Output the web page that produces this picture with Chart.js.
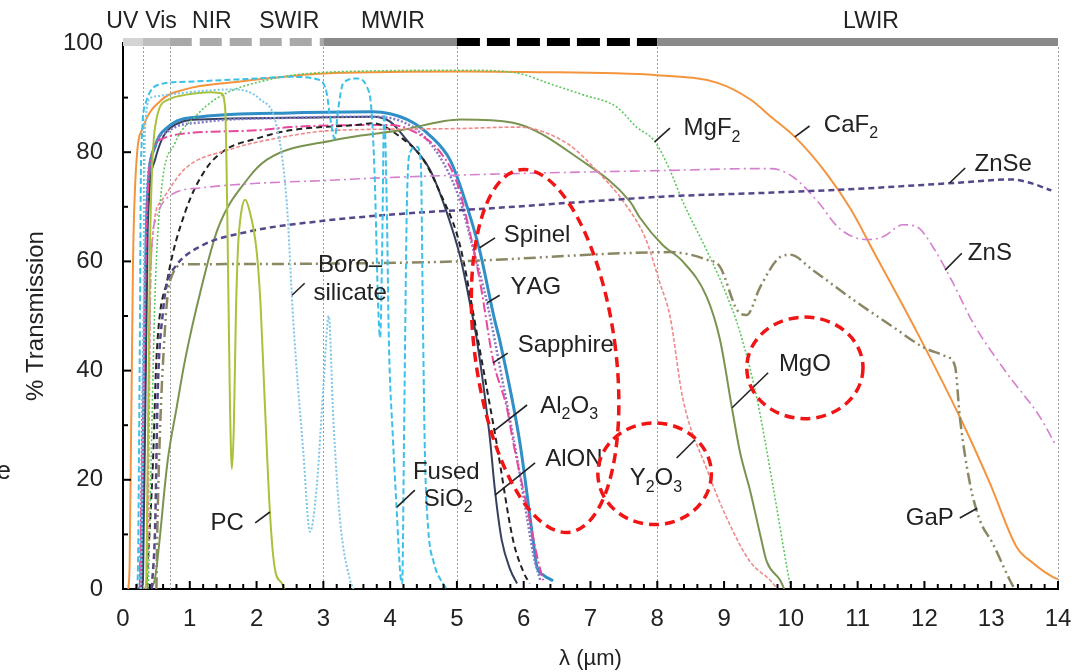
<!DOCTYPE html>
<html>
<head>
<meta charset="utf-8">
<script src="https://cdn.jsdelivr.net/npm/chart.js@4.4.0/dist/chart.umd.min.js"></script>
<style>
  html, body { margin: 0; padding: 0; background: #fff; }
  #wrap { width: 1088px; height: 672px; }
</style>
</head>
<body>
<div id="wrap"><canvas id="chart" width="1088" height="672"></canvas></div>
<script>
// optical transmission of window materials

// ─── DATA (wavelength in µm, transmission in %) ───
const caf2Wl = [0.08, 0.1, 0.15, 0.2, 0.3, 0.57, 0.93, 1.65, 3.15, 5.15, 6, 8, 8.9, 9.4, 9.7, 10.06, 10.54, 10.9, 11.23, 11.89, 12.53, 12.98, 13.38, 13.62, 13.92, 14];
const caf2T  = [0, 5, 60, 78, 84.5, 89.5, 91.5, 92.8, 94.5, 94.8, 94.7, 94.1, 92.7, 89.6, 86.5, 82.8, 76, 69.5, 62, 47, 31.5, 19.4, 7.7, 4.8, 2.2, 1.8];

const mgf2Wl = [0.38, 0.42, 0.48, 0.57, 0.78, 1.08, 1.42, 2.15, 3.15, 5.15, 5.9, 6.4, 6.89, 7.39, 7.69, 7.96, 8.19, 8.38, 8.74, 9.0, 9.24, 9.49, 9.73, 9.94, 10.0];
const mgf2T  = [0, 23, 54, 72.5, 81.7, 86.5, 90, 93.2, 94.7, 95, 94.5, 92.5, 90.5, 88.3, 84.6, 82, 76.7, 71, 62, 55, 47, 35, 19, 4, 0];

const znseWl = [0.43, 0.48, 0.52, 0.6, 0.66, 0.78, 1.15, 1.9, 2.9, 4.15, 5.6, 7, 8.3, 9.5, 11, 12.5, 13.3, 13.55, 13.9];
const znseT  = [0, 11, 36, 51, 56, 59, 62.7, 65.5, 67.3, 68.7, 69.8, 71, 72, 72.5, 73.3, 74.4, 75, 74.5, 73];

const znsWl = [0.35, 0.38, 0.42, 0.5, 0.7, 1.2, 2, 3, 3.85, 5.6, 8.3, 9.5, 9.7, 10.03, 10.4, 10.73, 11.14, 11.38, 11.68, 11.89, 12.13, 12.43, 12.73, 13.23, 13.73, 13.95];
const znsT  = [0, 30, 60, 68, 72, 73.5, 74.3, 74.8, 75.3, 76, 76.7, 77, 77, 75.5, 71, 66, 64, 64.5, 66.7, 66.3, 62.6, 56, 48.7, 39.6, 31.5, 26.7];

const gapWl = [0.5, 0.52, 0.63, 0.72, 0.93, 1.2, 3, 5, 7.5, 8.2, 8.74, 8.94, 9.2, 9.34, 9.54, 9.84, 9.99, 10.33, 10.93, 11.53, 11.98, 12.34, 12.46, 12.53, 12.68, 12.83, 13.02, 13.28, 13.35];
const gapT  = [0, 14.5, 48, 57, 59.5, 59.5, 59.6, 60, 61.5, 61.7, 60.3, 59, 51, 50.2, 55.3, 60.8, 61.2, 58.4, 53, 48, 44.3, 42.5, 40.7, 31.5, 19.4, 12.6, 8.4, 1.6, 0];

const mgoWl = [0.42, 0.48, 0.67, 0.8, 0.93, 1.17, 1.42, 1.86, 2.15, 3.15, 4.15, 5.05, 5.84, 6.84, 7.59, 7.74, 8.08, 8.38, 8.74, 8.94, 9.12, 9.24, 9.39, 9.54, 9.64, 9.84, 9.9];
const mgoT  = [0, 2, 23.6, 33, 42, 55, 66, 75, 78.6, 82.2, 84, 86, 85.4, 78.7, 71, 68, 63, 60, 53.5, 45.6, 33, 25, 18, 10, 5, 1.6, 0];

const y2o3Wl = [0.35, 0.37, 0.42, 0.57, 0.93, 1.57, 2.5, 3.15, 4.9, 5.9, 6.65, 7.14, 7.49, 7.83, 8.04, 8.19, 8.38, 8.74, 9.04, 9.39, 9.69, 9.8];
const y2o3T  = [0, 5, 60, 71, 77, 80.4, 83, 84, 84.3, 84.6, 81.6, 76, 71, 64, 56, 50, 35, 22, 13, 5, 1.6, 0];

const spinelWl = [0.25, 0.27, 0.3, 0.33, 0.37, 0.48, 0.67, 1.17, 2.5, 3.74, 4.25, 4.6, 4.9, 5.1, 5.34, 5.57, 5.64, 5.94, 6.14, 6.2, 6.3, 6.44];
const spinelT  = [0, 2, 23.6, 54, 72.5, 81, 84.6, 86.5, 87.2, 87.4, 86, 83, 78.5, 72, 62, 49, 45.6, 27, 9, 4, 2.5, 1.5];

const yagWl = [0.26, 0.3, 0.35, 0.45, 0.7, 1.2, 2.5, 3.8, 4.2, 4.5, 4.8, 5.05, 5.25, 5.45, 5.7, 5.9, 6.05, 6.15, 6.25];
const yagT  = [0, 40, 70, 80, 84, 85.5, 86.3, 86.5, 85.5, 83, 78, 71, 62, 52.5, 37, 24, 13, 6, 1.5];

const sapphireWl = [0.25, 0.3, 0.35, 0.42, 0.6, 1, 2, 2.5, 4.0, 4.4, 4.75, 5.0, 5.2, 5.35, 5.54, 5.75, 5.84, 6.05, 6.2, 6.29];
const sapphireT  = [0, 30, 65, 79, 82.5, 83.5, 84, 84.6, 85, 83.5, 80, 74.4, 65, 56, 42, 33, 27, 15, 6, 1.6];

const al2o3Wl = [0.35, 0.45, 0.5, 0.67, 0.93, 1.23, 1.53, 2.0, 2.5, 3.5, 3.74, 4.15, 4.5, 4.75, 5.0, 5.1, 5.2, 5.34, 5.59, 5.84, 6.0, 6.09];
const al2o3T  = [0, 23.6, 42, 57, 69, 76.7, 80.4, 82.5, 84, 85, 85.3, 82.8, 78.6, 72.5, 65, 60, 53.5, 44, 27, 9, 3, 1];

const alonWl = [0.28, 0.3, 0.37, 0.48, 0.67, 1.17, 2.5, 3.74, 4.0, 4.25, 4.6, 4.85, 5.05, 5.2, 5.3, 5.49, 5.57, 5.67, 5.8, 5.9];
const alonT  = [0, 2, 66, 78.6, 84, 86, 86.3, 86.5, 85.6, 82.2, 76.7, 68.9, 60.8, 52, 45.5, 28, 18, 9, 3.5, 1];

const silicaWl = [0.2, 0.22, 0.25, 0.27, 0.34, 0.52, 0.93, 2.0, 2.5, 2.95, 3.05, 3.1, 3.17, 3.22, 3.3, 3.5, 3.65, 3.72, 3.77, 3.82, 3.85, 3.88, 3.91, 3.95, 3.98, 4.04, 4.1, 4.15, 4.18, 4.21, 4.25, 4.3, 4.4, 4.46, 4.49, 4.52, 4.57, 4.65, 4.79, 4.85];
const silicaT  = [0, 2, 42, 78, 89, 92.3, 92.9, 93.5, 93.8, 93.2, 90.8, 86.5, 82.5, 87.7, 92.7, 93.5, 92, 87.7, 75, 52, 46, 62, 87, 70, 46, 28, 14, 3, 1, 30, 70, 80, 81, 78, 50, 25, 11, 5, 1, 0];

const boroWl = [0.27, 0.3, 0.33, 0.42, 0.55, 1.0, 1.65, 2.05, 2.3, 2.45, 2.55, 2.7, 2.8, 2.9, 3.0, 3.08, 3.15, 3.25, 3.4, 3.45];
const boroT  = [0, 30, 84.6, 90, 90.3, 91, 91.5, 89.7, 84.8, 71, 49, 25, 10.5, 18.7, 37, 50, 31, 12.6, 1.6, 0];

const pcWl = [0.33, 0.35, 0.4, 0.48, 0.67, 0.93, 1.32, 1.47, 1.53, 1.56, 1.6, 1.63, 1.66, 1.69, 1.72, 1.77, 1.83, 1.9, 2.0, 2.06, 2.12, 2.2, 2.27, 2.38, 2.42];
const pcT  = [0, 2, 60, 84.6, 89.6, 90.5, 91, 90.8, 88, 70, 35, 22, 30, 50, 62, 69, 71.3, 69, 62, 52, 35, 14, 4, 1, 0];

// band edges along the top (µm) and their names
const bandEdges = [0, 0.3, 0.7, 3, 5, 8, 14];
const bandNames = ['UV', 'Vis', 'NIR', 'SWIR', 'MWIR', 'LWIR'];
const bandNameAt = [-0.01, 0.57, 1.33, 2.49, 4.04, 11.2];

// axis ticks
const xTicks = [0, 1, 2, 3, 4, 5, 6, 7, 8, 9, 10, 11, 12, 13, 14];
const yTicks = [0, 20, 40, 60, 80, 100];

// ─── ANNOTATIONS (in data units) ───
const FONT = "'Liberation Sans', Arial, sans-serif";
const INK = '#222';

const notes = [
    { t: 'Boro–', x: 3.40, y: 59.2 }, { t: 'silicate', x: 3.40, y: 54.2 },
    { t: 'Spinel', x: 6.20, y: 64.8 },
    { t: 'YAG', x: 6.18, y: 55.3 },
    { t: 'Sapphire', x: 6.63, y: 44.7 },
    { t: 'Al_2O_3', x: 6.68, y: 33.5 },
    { t: 'AlON', x: 6.75, y: 23.8 },
    { t: 'Fused', x: 4.84, y: 21.4 }, { t: 'SiO_2', x: 4.87, y: 16.5 },
    { t: 'Y_2O_3', x: 7.98, y: 20.3 },
    { t: 'MgO', x: 10.21, y: 41.2 },
    { t: 'MgF_2', x: 8.82, y: 84.4 },
    { t: 'CaF_2', x: 10.9, y: 85.0 },
    { t: 'ZnSe', x: 13.18, y: 77.8 },
    { t: 'ZnS', x: 12.98, y: 61.5 },
    { t: 'GaP', x: 12.08, y: 13.0 },
    { t: 'PC', x: 1.56, y: 12.1 }
];

const leaders = [
    [2.53, 53.8, 2.72, 56.0], [5.34, 62.5, 5.57, 64.3], [5.45, 52.4, 5.64, 53.8],
    [5.54, 41.4, 5.76, 43.2], [5.57, 29.1, 6.05, 33.7], [5.57, 17.2, 6.17, 23.1],
    [4.10, 15.0, 4.37, 18.1], [8.29, 24.0, 8.56, 27.3], [9.12, 33.2, 9.66, 39.6],
    [7.96, 81.9, 8.19, 84.4], [10.06, 82.8, 10.28, 84.8], [12.38, 74.4, 12.61, 77.1],
    [12.31, 58.4, 12.56, 61.5], [12.53, 13.0, 12.79, 14.8], [1.98, 12.1, 2.20, 14.1]
];

const circles = [
    { x: 6.32, y: 43.6, rx: 1.05, ry: 33.5, rot: -0.136 },
    { x: 7.96, y: 21.1, rx: 0.85, ry: 9.3, rot: 0 },
    { x: 10.21, y: 40.5, rx: 0.87, ry: 9.3, rot: 0 }
];

// ─── HELPERS ───
function pairs(xs, ys) {
    return xs.map((x, i) => ({ x: x, y: ys[i] }));
}

function series(label, xs, ys, color, width, dash) {
    return {
        label: label,
        data: pairs(xs, ys),
        borderColor: color,
        borderWidth: width,
        borderDash: dash || [],
        pointRadius: 0,
        fill: false,
        cubicInterpolationMode: 'monotone'
    };
}

// text with single-character subscripts written as _2
function drawRich(ctx, str, cx, cy) {
    const parts = [];
    for (let i = 0; i < str.length; i++) {
        if (str[i] === '_') { parts.push([str[i + 1], true]); i++; }
        else parts.push([str[i], false]);
    }
    const big = `24px ${FONT}`, small = `16px ${FONT}`;
    let total = 0;
    parts.forEach(p => { ctx.font = p[1] ? small : big; p.push(ctx.measureText(p[0]).width); total += p[2]; });
    let x = cx - total / 2;
    ctx.textAlign = 'left';
    ctx.textBaseline = 'middle';
    parts.forEach(p => {
        ctx.font = p[1] ? small : big;
        ctx.fillText(p[0], x, p[1] ? cy + 9 : cy);
        x += p[2];
    });
}

// ─── OVERLAY PLUGIN ───
const overlay = {
    id: 'overlay',
    beforeDatasetsDraw(chart) {
        const { ctx, chartArea: a, scales: { x } } = chart;
        ctx.save();
        ctx.strokeStyle = '#9a9a9a';
        ctx.lineWidth = 1;
        ctx.setLineDash([2, 2]);
        [0.3, 0.7, 3, 5, 8, 14].forEach(v => {
            const px = Math.round(x.getPixelForValue(v)) + 0.5;
            ctx.beginPath(); ctx.moveTo(px, a.top + 4); ctx.lineTo(px, a.bottom); ctx.stroke();
        });
        ctx.restore();
    },
    afterDatasetsDraw(chart) {
        const { ctx, chartArea: a, scales: { x, y } } = chart;
        const ux = x.getPixelForValue(1) - x.getPixelForValue(0);
        const uy = y.getPixelForValue(0) - y.getPixelForValue(1);
        ctx.save();

        // inside tick marks
        ctx.strokeStyle = '#000';
        ctx.lineWidth = 2;
        for (let i = 0; i <= 70; i++) {
            const px = x.getPixelForValue(i * 0.2);
            const len = i % 5 === 0 ? 8 : 5;
            ctx.beginPath(); ctx.moveTo(px, a.bottom); ctx.lineTo(px, a.bottom - len); ctx.stroke();
        }
        for (let v = 10; v <= 100; v += 10) {
            const py = y.getPixelForValue(v);
            const len = v % 20 === 0 ? 8 : 5;
            ctx.beginPath(); ctx.moveTo(a.left, py); ctx.lineTo(a.left + len, py); ctx.stroke();
        }

        // spectral band strip
        const by = a.top - 1;
        const bandStyle = [
            ['#d4d4d4', []], ['#bdbdbd', []], ['#a9a9a9', [22, 8]],
            ['#8a8a8a', []], ['#000000', [23, 7]], ['#8a8a8a', []]
        ];
        ctx.lineWidth = 8;
        for (let i = 0; i < bandStyle.length; i++) {
            ctx.strokeStyle = bandStyle[i][0];
            ctx.setLineDash(bandStyle[i][1]);
            ctx.beginPath();
            ctx.moveTo(x.getPixelForValue(bandEdges[i]), by);
            ctx.lineTo(x.getPixelForValue(bandEdges[i + 1]), by);
            ctx.stroke();
        }
        ctx.setLineDash([]);
        ctx.fillStyle = INK;
        ctx.font = `23px ${FONT}`;
        ctx.textAlign = 'center';
        ctx.textBaseline = 'middle';
        bandNames.forEach((n, i) => ctx.fillText(n, x.getPixelForValue(bandNameAt[i]), a.top - 21));

        // leader lines and curve names
        ctx.strokeStyle = '#222';
        ctx.lineWidth = 1.6;
        leaders.forEach(l => {
            ctx.beginPath();
            ctx.moveTo(x.getPixelForValue(l[0]), y.getPixelForValue(l[1]));
            ctx.lineTo(x.getPixelForValue(l[2]), y.getPixelForValue(l[3]));
            ctx.stroke();
        });
        ctx.fillStyle = INK;
        notes.forEach(n => drawRich(ctx, n.t, x.getPixelForValue(n.x), y.getPixelForValue(n.y)));

        // red dashed highlight rings
        ctx.strokeStyle = '#f01414';
        ctx.lineWidth = 3.5;
        ctx.setLineDash([10, 6]);
        circles.forEach(c => {
            ctx.beginPath();
            ctx.ellipse(x.getPixelForValue(c.x), y.getPixelForValue(c.y), c.rx * ux, c.ry * uy, c.rot, 0, Math.PI * 2);
            ctx.stroke();
        });
        ctx.setLineDash([]);

        // cut-off letter at the left edge of the source image
        ctx.fillStyle = INK;
        ctx.font = `26px ${FONT}`;
        ctx.textAlign = 'right';
        ctx.fillText('e', 11, 472);
        ctx.restore();
    }
};

// ─── CHART ───
const tickFont = { family: FONT, size: 24 };

new Chart(document.getElementById('chart'), {
    type: 'line',
    data: {
        datasets: [
            series('Borosilicate', boroWl, boroT, '#7cc6e8', 2, [2, 2]),
            series('Fused SiO2', silicaWl, silicaT, '#3cc0ea', 2, [6, 3]),
            series('PC', pcWl, pcT, '#a8c23a', 2),
            series('ZnSe', znseWl, znseT, '#55478a', 2.5, [6, 4]),
            series('GaP', gapWl, gapT, '#8c8763', 2.5, [12, 4, 2, 4, 2, 4]),
            series('ZnS', znsWl, znsT, '#d67fcf', 1.6, [10, 4, 2, 4]),
            series('MgF2', mgf2Wl, mgf2T, '#5cc85c', 1.6, [2, 2]),
            series('CaF2', caf2Wl, caf2T, '#f4943f', 2),
            series('Y2O3', y2o3Wl, y2o3T, '#f08a8a', 1.6, [4, 2]),
            series('MgO', mgoWl, mgoT, '#7a9450', 2),
            series('Al2O3', al2o3Wl, al2o3T, '#222222', 2, [6, 4]),
            series('Sapphire', sapphireWl, sapphireT, '#e8489c', 2, [10, 3, 2, 3]),
            series('YAG', yagWl, yagT, '#8478c8', 2.5, [2, 2]),
            series('AlON', alonWl, alonT, '#35405f', 2),
            series('Spinel', spinelWl, spinelT, '#2f8fc6', 3)
        ]
    },
    options: {
        responsive: false,
        animation: false,
        layout: { padding: { top: 43, right: 30, left: 0, bottom: 0 } },
        plugins: { legend: { display: false }, tooltip: { enabled: false } },
        scales: {
            x: {
                type: 'linear', min: 0, max: 14,
                afterBuildTicks: s => { s.ticks = xTicks.map(v => ({ value: v })); },
                afterFit: s => { s.height = 83; },
                ticks: { font: tickFont, color: INK, padding: 16, maxRotation: 0, autoSkip: false },
                grid: { display: false, drawTicks: false },
                border: { display: true, color: '#000', width: 2 },
                title: { display: true, text: 'λ (µm)', font: { family: FONT, size: 22 }, color: INK, padding: 0 }
            },
            y: {
                type: 'linear', min: 0, max: 100,
                afterBuildTicks: s => { s.ticks = yTicks.map(v => ({ value: v })); },
                afterFit: s => { s.width = 123; },
                ticks: { font: tickFont, color: INK, padding: 20 },
                grid: { display: false, drawTicks: false },
                border: { display: true, color: '#000', width: 2 },
                title: { display: true, text: '% Transmission', font: { family: FONT, size: 24 }, color: INK, padding: { top: 22, bottom: 0 } }
            }
        }
    },
    plugins: [overlay]
});
</script>
</body>
</html>
